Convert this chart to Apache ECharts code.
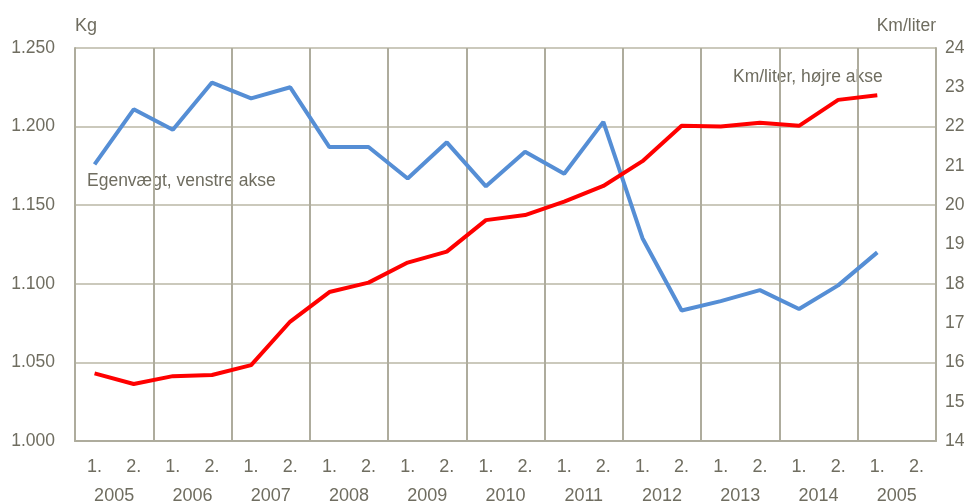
<!DOCTYPE html>
<html>
<head>
<meta charset="utf-8">
<script src="https://cdn.jsdelivr.net/npm/echarts@6/dist/echarts.min.js"></script>
<style>
    html, body { margin: 0; padding: 0; background: #fff; }
    #chart { width: 976px; height: 503px; }
</style>
</head>
<body>
<div id="chart"></div>
<script>
// half-year periods
const halves = ['1.', '2.', '1.', '2.', '1.', '2.', '1.', '2.', '1.', '2.', '1.', '2.',
    '1.', '2.', '1.', '2.', '1.', '2.', '1.', '2.', '1.', '2.']
// year labels under each pair (last one as in the original)
const years = ['2005', '2006', '2007', '2008', '2009', '2010', '2011', '2012', '2013', '2014', '2005']

// Egenvægt, kg (left axis)
const egenvaegt = [1.176, 1.211, 1.198, 1.228, 1.218, 1.225, 1.187, 1.187, 1.167, 1.190, 1.162,
    1.184, 1.170, 1.203, 1.129, 1.083, 1.089, 1.096, 1.084, 1.099, 1.120, null]
// Km/liter (right axis)
const kmPrLiter = [15.72, 15.45, 15.65, 15.68, 15.93, 17.04, 17.79, 18.03, 18.54, 18.82, 19.62,
    19.75, 20.09, 20.49, 21.12, 22.02, 22.0, 22.10, 22.02, 22.68, 22.80, null]

const textColor = '#6f6d60'
const font = 'Liberation Sans, Arial, sans-serif'
const gridDark = '#aeac9d'
const gridLight = '#cbc9bc'

const chart = echarts.init(document.getElementById('chart'))

chart.setOption({
    animation: false,
    textStyle: { fontFamily: font },
    grid: { left: 75, right: 40, top: 48, bottom: 62, outerBoundsMode: 'none' },
    xAxis: [
        {
            type: 'category',
            data: halves,
            axisLine: { show: false },
            axisTick: { show: false },
            axisLabel: { interval: 0, color: textColor, fontSize: 18, margin: 17 },
            splitLine: { show: false }
        },
        {
            type: 'category',
            data: years,
            position: 'bottom',
            axisLine: { show: true, lineStyle: { color: gridDark, width: 2 } },
            axisTick: { show: false },
            axisLabel: { interval: 0, color: textColor, fontSize: 18, margin: 46 },
            splitLine: { show: true, interval: 0, lineStyle: { color: gridDark, width: 2 } }
        }
    ],
    yAxis: [
        {
            type: 'value',
            min: 1,
            max: 1.25,
            interval: 0.05,
            name: 'Kg',
            nameLocation: 'end',
            nameGap: 13,
            nameTextStyle: { color: textColor, fontSize: 18, align: 'left', verticalAlign: 'bottom' },
            axisLine: { show: true, lineStyle: { color: gridDark, width: 2 } },
            axisTick: { show: false },
            axisLabel: {
                color: textColor,
                fontSize: 17.5,
                margin: 20,
                formatter: v => v.toFixed(3)
            },
            splitLine: { show: true, lineStyle: { color: gridLight, width: 2 } }
        },
        {
            type: 'value',
            min: 14,
            max: 24,
            interval: 1,
            position: 'right',
            name: 'Km/liter',
            nameLocation: 'end',
            nameGap: 13,
            nameTextStyle: { color: textColor, fontSize: 17.5, align: 'right', verticalAlign: 'bottom' },
            axisLine: { show: true, lineStyle: { color: gridDark, width: 2 } },
            axisTick: { show: false },
            axisLabel: { color: textColor, fontSize: 17.5, margin: 9 },
            splitLine: { show: false }
        }
    ],
    series: [
        {
            name: 'Egenvægt, venstre akse',
            type: 'line',
            xAxisIndex: 0,
            yAxisIndex: 0,
            data: egenvaegt,
            symbol: 'none',
            lineStyle: { color: '#558ed5', width: 4 },
            itemStyle: { color: '#558ed5' }
        },
        {
            name: 'Km/liter, højre akse',
            type: 'line',
            xAxisIndex: 0,
            yAxisIndex: 1,
            data: kmPrLiter,
            symbol: 'none',
            lineStyle: { color: '#ff0000', width: 4 },
            itemStyle: { color: '#ff0000' }
        }
    ],
    graphic: [
        {
            type: 'text',
            left: 87,
            top: 172,
            style: { text: 'Egenvægt, venstre akse', fill: textColor, font: '17.5px ' + font }
        },
        {
            type: 'text',
            left: 733,
            top: 68,
            style: { text: 'Km/liter, højre akse', fill: textColor, font: '17.5px ' + font }
        }
    ]
})
</script>
</body>
</html>
